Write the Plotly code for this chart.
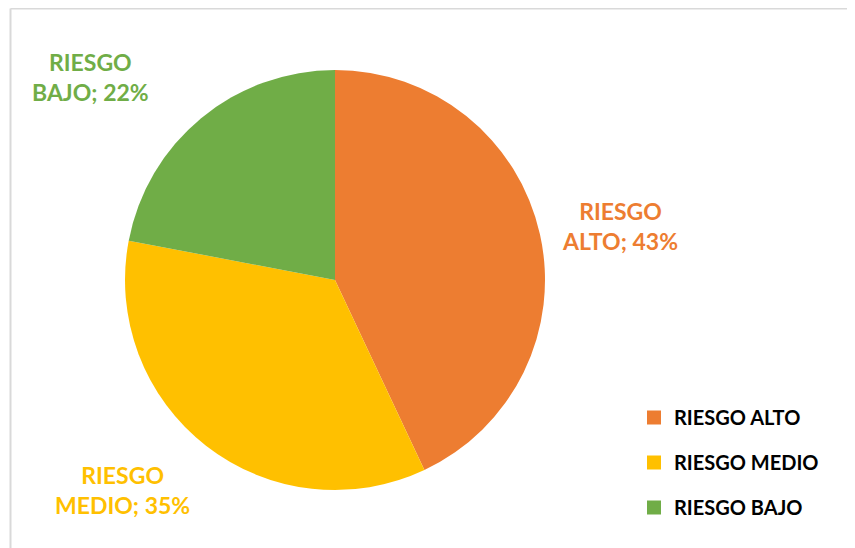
import plotly.graph_objects as go

categories = ["RIESGO ALTO", "RIESGO MEDIO", "RIESGO BAJO"]
values = [43, 35, 22]
colors = ["#ED7D31", "#FFC000", "#70AD47"]
label_lines = [["RIESGO", "ALTO; 43%"], ["RIESGO", "MEDIO; 35%"], ["RIESGO", "BAJO; 22%"]]

W, H = 855, 548
OFF = 8  # page body margin offset
cx, cy, r = 335 - OFF, 280 - OFF, 210


def px(x):
    return x / W


def py(y):
    return 1 - y / H


fig = go.Figure()
fig.add_trace(go.Pie(
    labels=categories, values=values, sort=False, direction="clockwise", rotation=0,
    marker=dict(colors=colors, line=dict(width=0)),
    textinfo="none", showlegend=False, hoverinfo="label+percent",
    domain=dict(x=[px(cx - r), px(cx + r)], y=[py(cy + r), py(cy - r)]),
))

# legend entries
for cat, col in zip(categories, colors):
    fig.add_trace(go.Scatter(
        x=[None], y=[None], mode="markers", name=cat, legendgroup=cat,
        marker=dict(symbol="square", size=14, color=col),
        showlegend=True,
    ))

# data labels
label_pos = [(620, 226), (122, 490), (90, 77)]
for (lx, ly), lines, col in zip(label_pos, label_lines, colors):
    fig.add_annotation(
        x=px(lx - OFF), y=py(ly - OFF), xref="paper", yref="paper",
        text="<br>".join(lines), showarrow=False, align="center",
        xanchor="center", yanchor="middle",
        font=dict(family="Lato", size=23, color=col, weight="bold"),
    )

# chart border (top and left visible)
bx, by = 10.5 - OFF, 0.5
fig.add_shape(type="line", xref="paper", yref="paper",
              x0=px(bx), x1=1.02, y0=py(by), y1=py(by),
              line=dict(color="#D9D9D9", width=2))
fig.add_shape(type="line", xref="paper", yref="paper",
              x0=px(bx), x1=px(bx), y0=-0.02, y1=py(by),
              line=dict(color="#D9D9D9", width=2))

fig.update_layout(
    width=W, height=H,
    margin=dict(l=0, r=0, t=0, b=0),
    paper_bgcolor="white", plot_bgcolor="white",
    xaxis=dict(visible=False), yaxis=dict(visible=False),
    legend=dict(
        x=px(634 - OFF), y=py(398 - OFF), xanchor="left", yanchor="top",
        font=dict(family="Lato", size=20, color="black", weight="bold"),
        tracegroupgap=16, bgcolor="rgba(0,0,0,0)",
    ),
    showlegend=True,
)

fig.write_html("out.html")
